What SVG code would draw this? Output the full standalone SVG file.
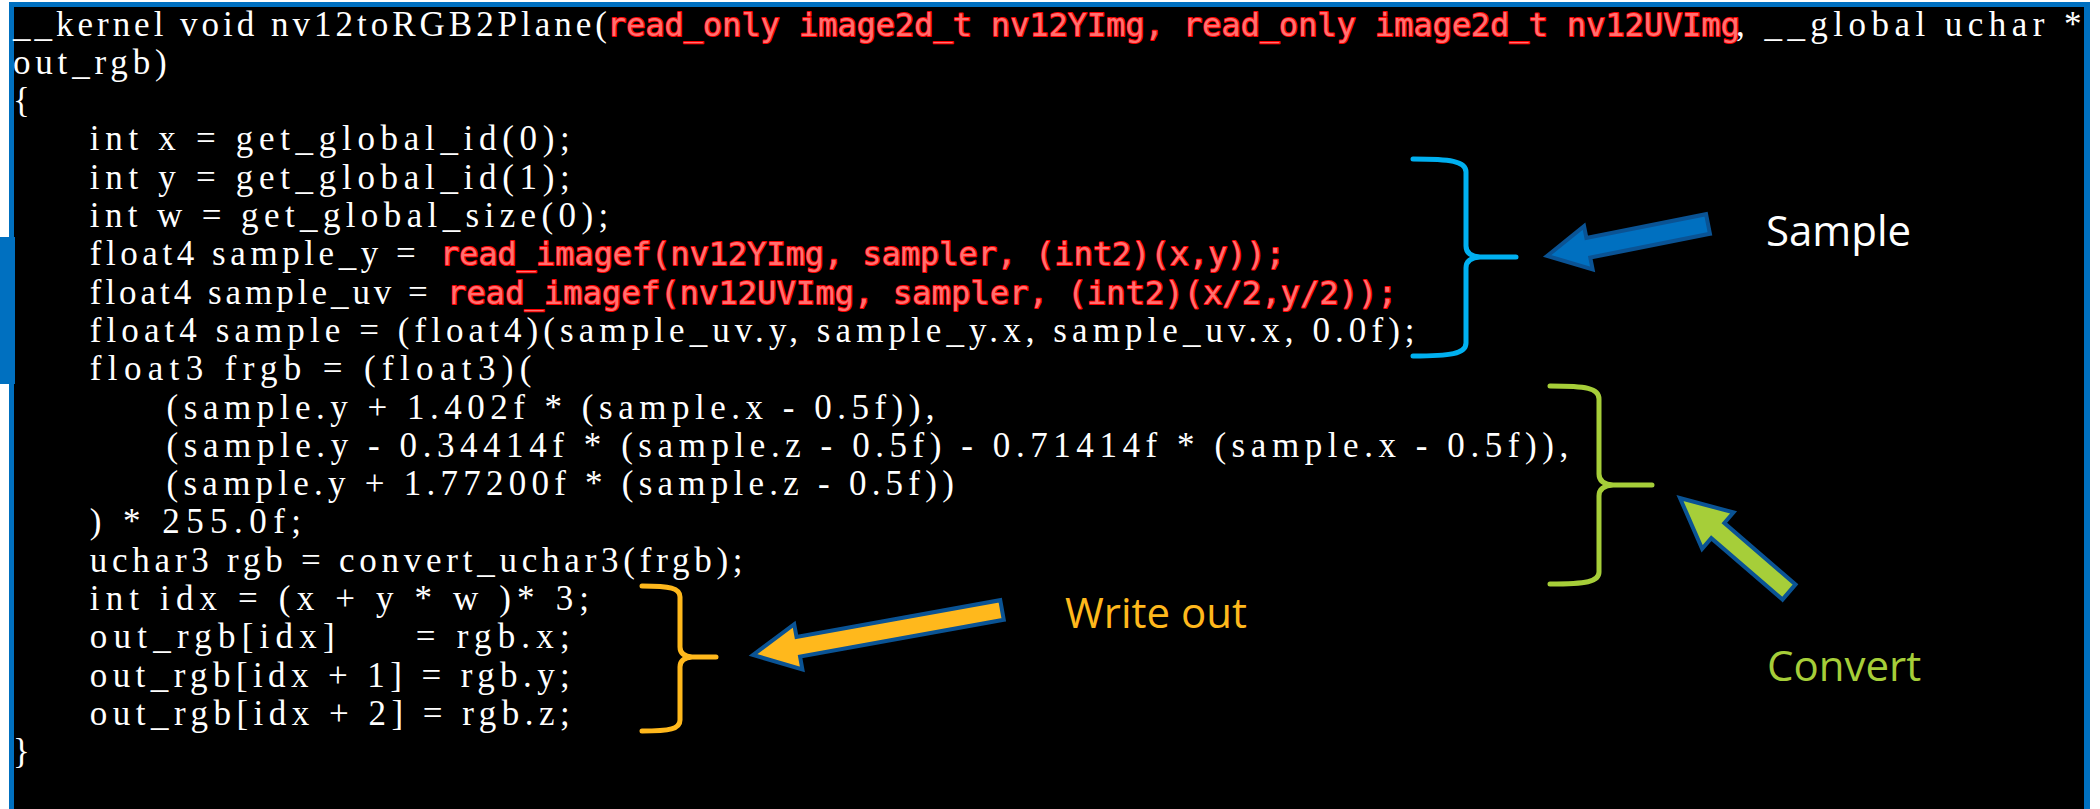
<svg xmlns="http://www.w3.org/2000/svg" width="2100" height="809" viewBox="0 0 2100 809" xml:space="preserve">
<defs>
<style>
.w{font-family:"Liberation Serif","DejaVu Serif",serif;font-size:35px;fill:#ffffff;white-space:pre;}
.r{font-family:"DejaVu Sans Mono","Liberation Mono",monospace;font-size:32px;fill:#ff7070;stroke:#ff0000;stroke-width:2;paint-order:stroke fill;stroke-linejoin:round;white-space:pre;}
.lbl{font-family:"Open Sans","Noto Sans",sans-serif;font-size:42px;}
.brace{fill:none;stroke-width:5;stroke-linecap:round;stroke-linejoin:round;}
.arrow{stroke:#0A5394;stroke-width:4;stroke-linejoin:miter;}
</style>
</defs>
<rect x="0" y="0" width="2100" height="809" fill="#ffffff"/>
<g id="frame">
<rect x="9" y="2" width="2081" height="820" fill="#0070C0"/>
<rect x="14" y="7" width="2070" height="815" fill="#000000"/>
<rect x="0" y="237" width="15" height="147" fill="#0070C0"/>
</g>
<g id="code">
<text class="w" x="13" y="35.5" textLength="594" lengthAdjust="spacing">__kernel void nv12toRGB2Plane(</text>
<text class="r" x="607" y="35.5" textLength="1133" lengthAdjust="spacing">read_only image2d_t nv12YImg, read_only image2d_t nv12UVImg</text>
<text class="w" x="1736" y="35.5" textLength="345.6" lengthAdjust="spacing">, __global uchar *</text>
<text class="w" x="13" y="73.8" textLength="153.6" lengthAdjust="spacing">out_rgb)</text>
<text class="w" x="13" y="112.1">{</text>
<text class="w" x="89.8" y="150.4" textLength="480" lengthAdjust="spacing">int x = get_global_id(0);</text>
<text class="w" x="89.8" y="188.7" textLength="480" lengthAdjust="spacing">int y = get_global_id(1);</text>
<text class="w" x="89.8" y="227" textLength="518.4" lengthAdjust="spacing">int w = get_global_size(0);</text>
<text class="w" x="89.8" y="265.3" textLength="326" lengthAdjust="spacing">float4 sample_y =</text>
<text class="r" x="440" y="265.3" textLength="845" lengthAdjust="spacing">read_imagef(nv12YImg, sampler, (int2)(x,y));</text>
<text class="w" x="89.8" y="303.6" textLength="338" lengthAdjust="spacing">float4 sample_uv =</text>
<text class="r" x="447" y="303.6" textLength="950" lengthAdjust="spacing">read_imagef(nv12UVImg, sampler, (int2)(x/2,y/2));</text>
<text class="w" x="89.8" y="341.9" textLength="1324.8" lengthAdjust="spacing">float4 sample = (float4)(sample_uv.y, sample_y.x, sample_uv.x, 0.0f);</text>
<text class="w" x="89.8" y="380.2" textLength="441.6" lengthAdjust="spacing">float3 frgb = (float3)(</text>
<text class="w" x="166.6" y="418.5" textLength="768" lengthAdjust="spacing">(sample.y + 1.402f * (sample.x - 0.5f)),</text>
<text class="w" x="166.6" y="456.8" textLength="1401.6" lengthAdjust="spacing">(sample.y - 0.34414f * (sample.z - 0.5f) - 0.71414f * (sample.x - 0.5f)),</text>
<text class="w" x="166.6" y="495.1" textLength="787.2" lengthAdjust="spacing">(sample.y + 1.77200f * (sample.z - 0.5f))</text>
<text class="w" x="89.8" y="533.4" textLength="211.2" lengthAdjust="spacing">) * 255.0f;</text>
<text class="w" x="89.8" y="571.7" textLength="652.8" lengthAdjust="spacing">uchar3 rgb = convert_uchar3(frgb);</text>
<text class="w" x="89.8" y="610" textLength="499.2" lengthAdjust="spacing">int idx = (x + y * w )* 3;</text>
<text class="w" x="89.8" y="648.3" textLength="480" lengthAdjust="spacing">out_rgb[idx]     = rgb.x;</text>
<text class="w" x="89.8" y="686.6" textLength="480" lengthAdjust="spacing">out_rgb[idx + 1] = rgb.y;</text>
<text class="w" x="89.8" y="724.9" textLength="480" lengthAdjust="spacing">out_rgb[idx + 2] = rgb.z;</text>
<text class="w" x="13" y="763.2">}</text>
</g>
<g id="sample">
<path class="brace" stroke="#00B0F0" d="M1413,159 C1450,159 1466,161 1466,172 L1466,246 Q1466,256 1480,257 L1516,257 M1480,257 Q1466,258 1466,268 L1466,343 C1466,354 1450,356 1413,356"/>
<text class="lbl" x="1766" y="246" fill="#ffffff">Sample</text>
</g>
<g id="convert">
<path class="brace" stroke="#A6CE39" d="M1550,386 C1586,386 1599,388 1599,399 L1599,474 Q1599,484 1613,485 L1652,485 M1613,485 Q1599,486 1599,496 L1599,572 C1599,582 1586,584 1550,584"/>
<text class="lbl" x="1767" y="681" fill="#A6CE39">Convert</text>
</g>
<g id="writeout">
<path class="brace" stroke="#FFB81C" d="M642,586 C670,586 680,588 680,597 L680,647 Q680,656 692,657 L716,657 M692,657 Q680,658 680,667 L680,720 C680,729 670,731 642,731"/>
<text class="lbl" x="1065" y="628" fill="#FFB81C">Write out</text>
</g>
<g id="connectors">
<polygon class="arrow" fill="#0070C0" transform="translate(1708,224) rotate(168.76)" points="0,-10 122,-10 122,-22 164,0 122,22 122,10 0,10"/>
<polygon class="arrow" fill="#FFB81C" transform="translate(1002,610) rotate(169.76)" points="0,-10 207,-10 207,-23 253,0 207,23 207,10 0,10"/>
<polygon class="arrow" fill="#A6CE39" transform="translate(1789,592) rotate(220.77)" points="0,-10 94,-10 94,-24 144,0 94,24 94,10 0,10"/>
</g>
</svg>
